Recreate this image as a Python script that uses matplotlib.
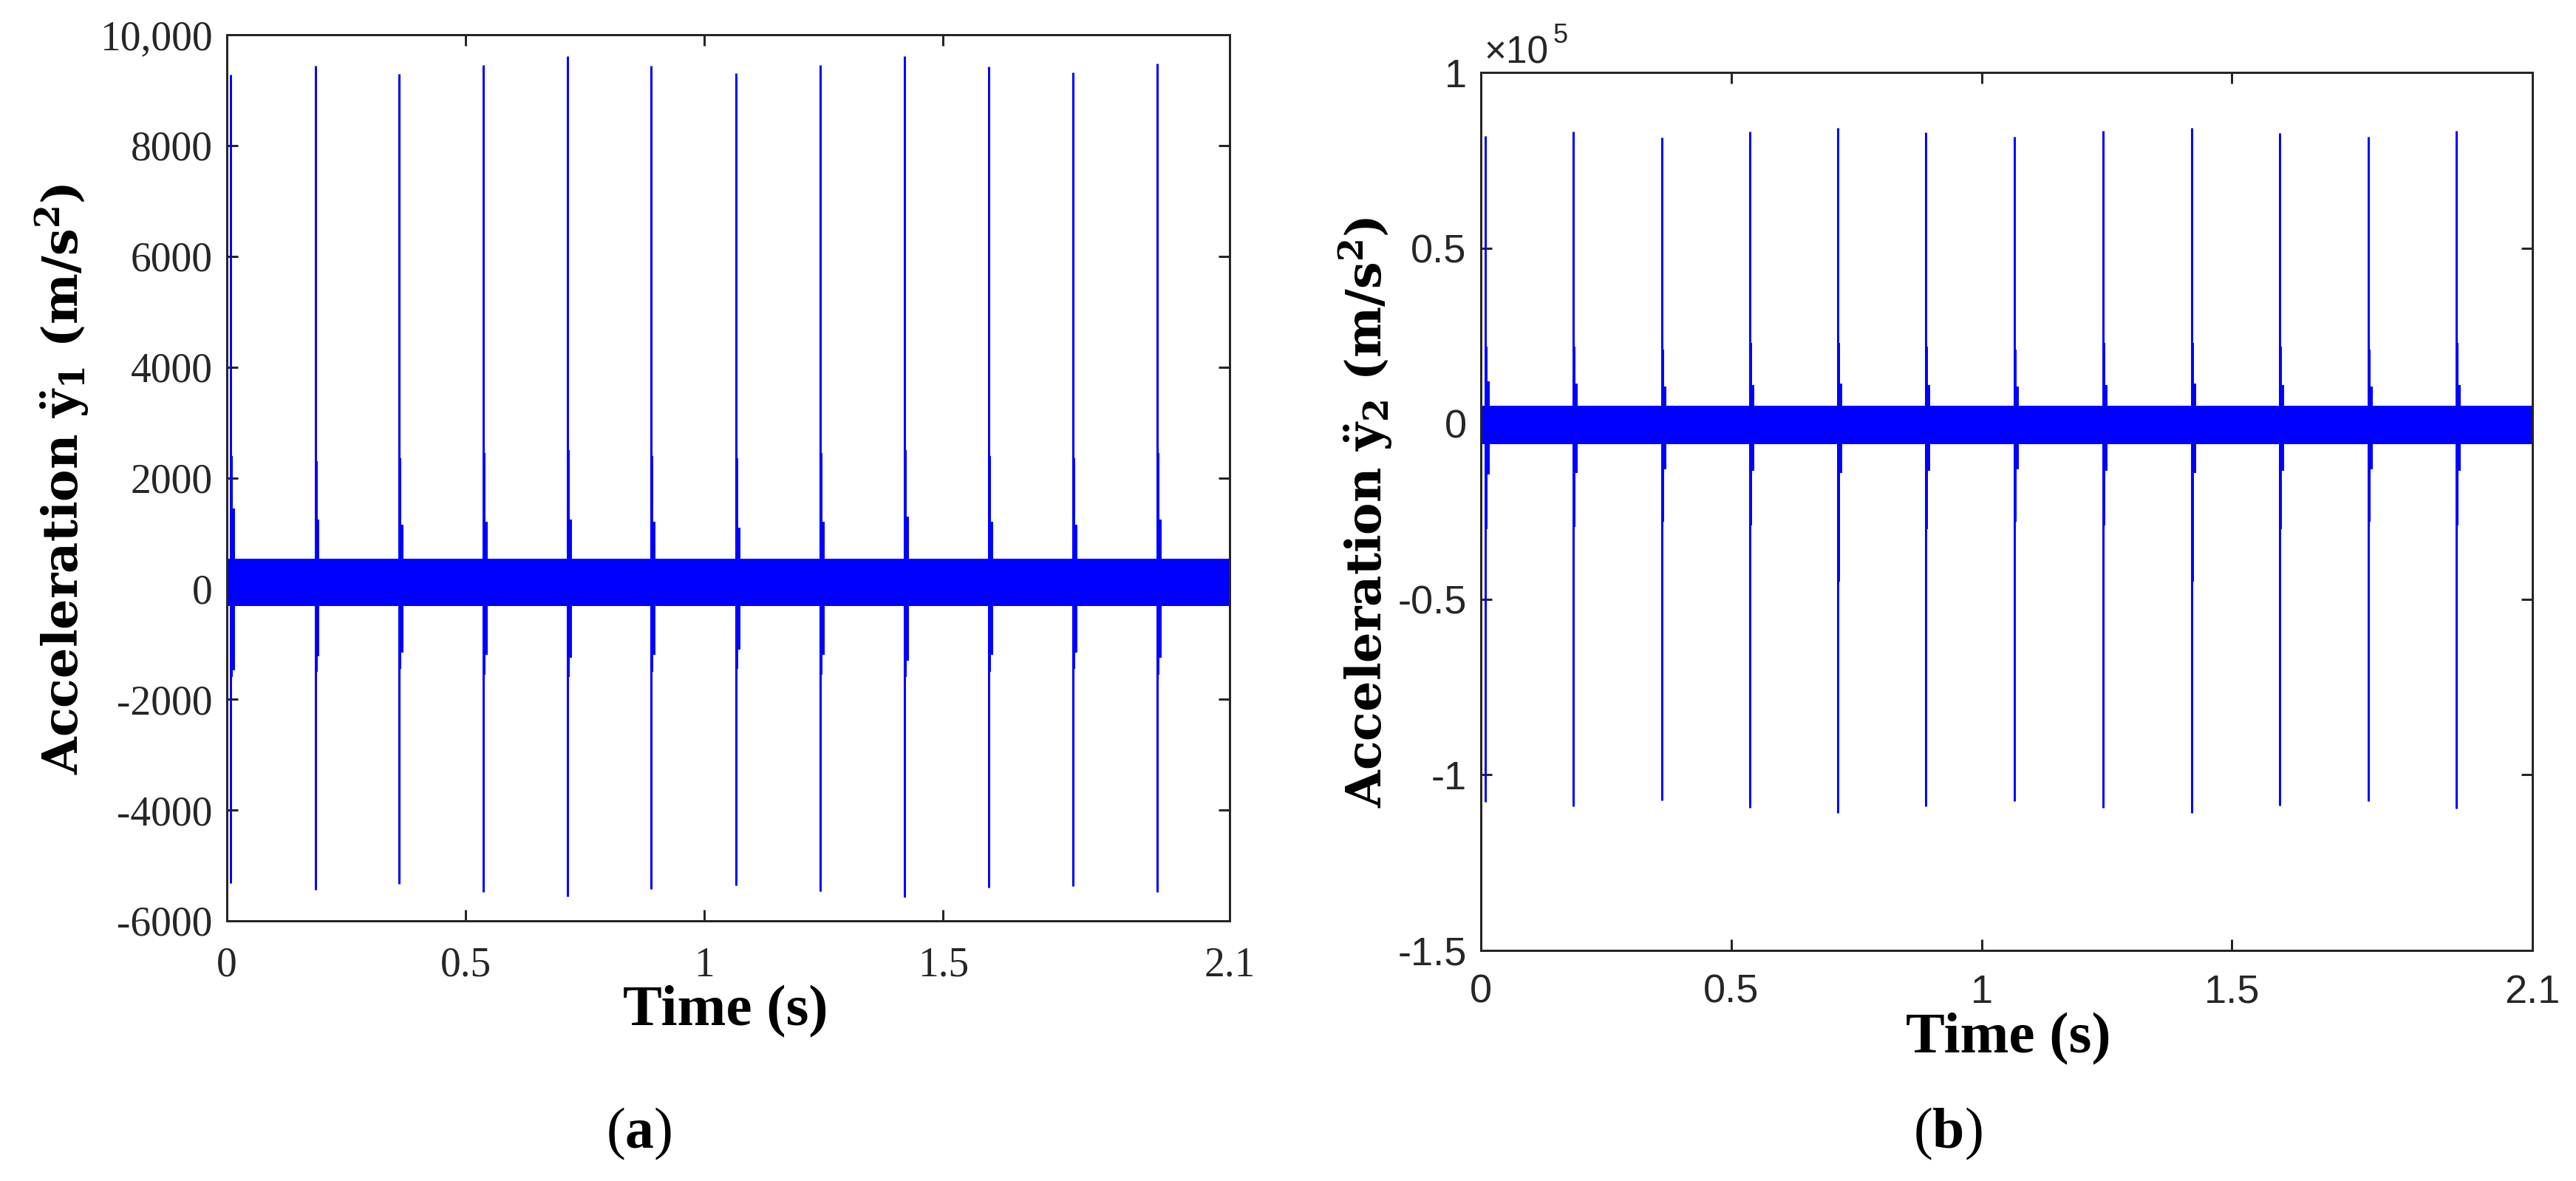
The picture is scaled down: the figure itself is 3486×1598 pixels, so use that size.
import matplotlib
matplotlib.use("Agg")
import matplotlib.pyplot as plt
from matplotlib.ticker import FuncFormatter

# ---------------- data ----------------
impact_times = [0.0085, 0.185, 0.361, 0.537, 0.713, 0.889, 1.066, 1.243,
                1.419, 1.595, 1.772, 1.948]

# panel (a): acceleration of mass 1 (m/s^2)
a_peak_max = [9280, 9443, 9287, 9457, 9607, 9437, 9307, 9457, 9607, 9423, 9321, 9484]
a_peak_min = [-5315, -5436, -5330, -5473, -5556, -5420, -5353, -5467, -5572, -5406, -5368, -5481]
a_tail_max = [2400, 2300, 2350, 2450, 2500, 2400, 2350, 2450, 2500, 2400, 2350, 2450]
a_tail_min = [-1600, -1500, -1450, -1550, -1600, -1500, -1450, -1550, -1600, -1500, -1450, -1550]
a_echo_max = [1450, 1250, 1150, 1200, 1250, 1200, 1100, 1200, 1300, 1200, 1150, 1250]
a_echo_min = [-1480, -1220, -1150, -1200, -1250, -1200, -1100, -1200, -1300, -1200, -1150, -1250]
a_band = [-315, 545]          # steady vibration band (min, max)

# panel (b): acceleration of mass 2 (m/s^2)
b_peak_max = [81800, 83100, 81500, 83100, 84300, 82900, 81700, 83300, 84300, 82700, 81700, 83300]
b_peak_min = [-107700, -108900, -107300, -109400, -110800, -108900, -107500, -109400,
              -110800, -108800, -107500, -109700]
b_tail_max = [22000, 22000, 21000, 23000, 23000, 22000, 21000, 23000, 23000, 22000, 21000, 23000]
b_tail_min = [-30000, -29500, -28000, -29000, -45000, -30000, -28000, -29000, -45000, -30000, -28000, -29000]
b_echo_max = [12000, 11400, 10500, 11000, 11500, 11000, 10500, 11000, 11500, 11000, 10500, 11000]
b_echo_min = [-14500, -14000, -13000, -13500, -14000, -13500, -13000, -13500, -14000, -13500, -13000, -13500]
b_band = [-5900, 5100]

time_span = [0.0, 2.1]
xticks = [0, 0.5, 1, 1.5, 2.1]
a_yticks = [-6000, -4000, -2000, 0, 2000, 4000, 6000, 8000, 10000]
b_yticks = [-150000, -100000, -50000, 0, 50000, 100000]

# ---------------- figure ----------------
W, H = 3487, 1598
plt.rcParams['axes.unicode_minus'] = False
plt.rcParams['mathtext.fontset'] = 'custom'
plt.rcParams['mathtext.rm'] = 'Liberation Serif'
plt.rcParams['mathtext.bf'] = 'Liberation Serif:bold'

fig = plt.figure(figsize=(W / 100, H / 100), dpi=100)
fig.patch.set_facecolor('white')

axA = fig.add_axes([307 / W, 1 - 1246 / H, (1664 - 307) / W, (1246 - 47) / H])
axB = fig.add_axes([2004 / W, 1 - 1286 / H, (3427 - 2004) / W, (1286 - 98) / H])

blue = '#0000FF'
dark = '#262626'
px = 72 / 100  # points per pixel


def draw_signal(ax, band, pmax, pmin, tmax, tmin, emax, emin):
    ax.fill_between(time_span, band[0], band[1], color=blue, linewidth=0, zorder=2)
    ax.vlines(impact_times, pmin, pmax, color=blue, linewidth=3 * px, zorder=3)
    ax.vlines([t + 0.0015 for t in impact_times], tmin, tmax, color=blue,
              linewidth=4 * px, zorder=3)
    ax.vlines([t + 0.0045 for t in impact_times], emin, emax, color=blue,
              linewidth=6 * px, zorder=3)


draw_signal(axA, a_band, a_peak_max, a_peak_min, a_tail_max, a_tail_min,
            a_echo_max, a_echo_min)
draw_signal(axB, b_band, b_peak_max, b_peak_min, b_tail_max, b_tail_min,
            b_echo_max, b_echo_min)

axA.set_xlim(time_span)
axA.set_ylim(-6000, 10000)
axB.set_xlim(time_span)
axB.set_ylim(-150000, 100000)

for ax, yt in ((axA, a_yticks), (axB, b_yticks)):
    ax.set_xticks(xticks)
    ax.set_yticks(yt)
    for s in ax.spines.values():
        s.set_linewidth(3 * px)
        s.set_color(dark)
        s.set_zorder(5)
    ax.tick_params(direction='in', length=15 * px, width=3 * px, color=dark,
                   top=True, right=True, labelcolor=dark)
    ax.tick_params(axis='y', pad=14)
axA.tick_params(axis='x', pad=25)
axB.tick_params(axis='x', pad=23)

axA.xaxis.set_major_formatter(FuncFormatter(lambda v, p: f'{v:g}'))
axA.yaxis.set_major_formatter(FuncFormatter(
    lambda v, p: '10,000' if abs(v - 10000) < 1 else f'{v:g}'))
axB.xaxis.set_major_formatter(FuncFormatter(lambda v, p: f'{v:g}'))
axB.yaxis.set_major_formatter(FuncFormatter(lambda v, p: f'{v / 1e5:g}'))

for lab in axA.get_xticklabels() + axA.get_yticklabels():
    lab.set_fontfamily('Liberation Serif')
    lab.set_fontsize(40)
for lab in axB.get_xticklabels() + axB.get_yticklabels():
    lab.set_fontfamily('Liberation Sans')
    lab.set_fontsize(39)

# exponent label of panel (b)
fig.text(2008 / W, 1 - 86 / H, '×10', fontfamily='Liberation Sans', fontsize=37,
         color=dark, ha='left', va='baseline')
fig.text(2102 / W, 1 - 58 / H, '5', fontfamily='Liberation Sans', fontsize=26,
         color=dark, ha='left', va='baseline')

# y labels
fig.text(84 / W, 1 - 648 / H, r'Acceleration $\mathbf{\ddot{y}_1}$ (m/s$^\mathbf{2}$)',
         rotation=90, ha='center', va='center', fontfamily='DejaVu Serif',
         fontweight='bold', fontsize=47, math_fontfamily='dejavuserif')
fig.text(1848 / W, 1 - 693 / H, r'Acceleration $\mathbf{\ddot{y}_2}$ (m/s$^\mathbf{2}$)',
         rotation=90, ha='center', va='center', fontfamily='DejaVu Serif',
         fontweight='bold', fontsize=47, math_fontfamily='dejavuserif')

# x labels
fig.text(982 / W, 1 - 1387 / H, 'Time (s)', ha='center', va='baseline',
         fontfamily='Liberation Serif', fontweight='bold', fontsize=57)
fig.text(2718 / W, 1 - 1424 / H, 'Time (s)', ha='center', va='baseline',
         fontfamily='Liberation Serif', fontweight='bold', fontsize=57)

# panel captions
fig.text(865 / W, 1 - 1553 / H, r'($\mathbf{a}$)', ha='center', va='baseline',
         fontfamily='Liberation Serif', fontsize=56)
fig.text(2636 / W, 1 - 1553 / H, r'($\mathbf{b}$)', ha='center', va='baseline',
         fontfamily='Liberation Serif', fontsize=56)

fig.savefig('out.png', dpi=100, facecolor='white')
